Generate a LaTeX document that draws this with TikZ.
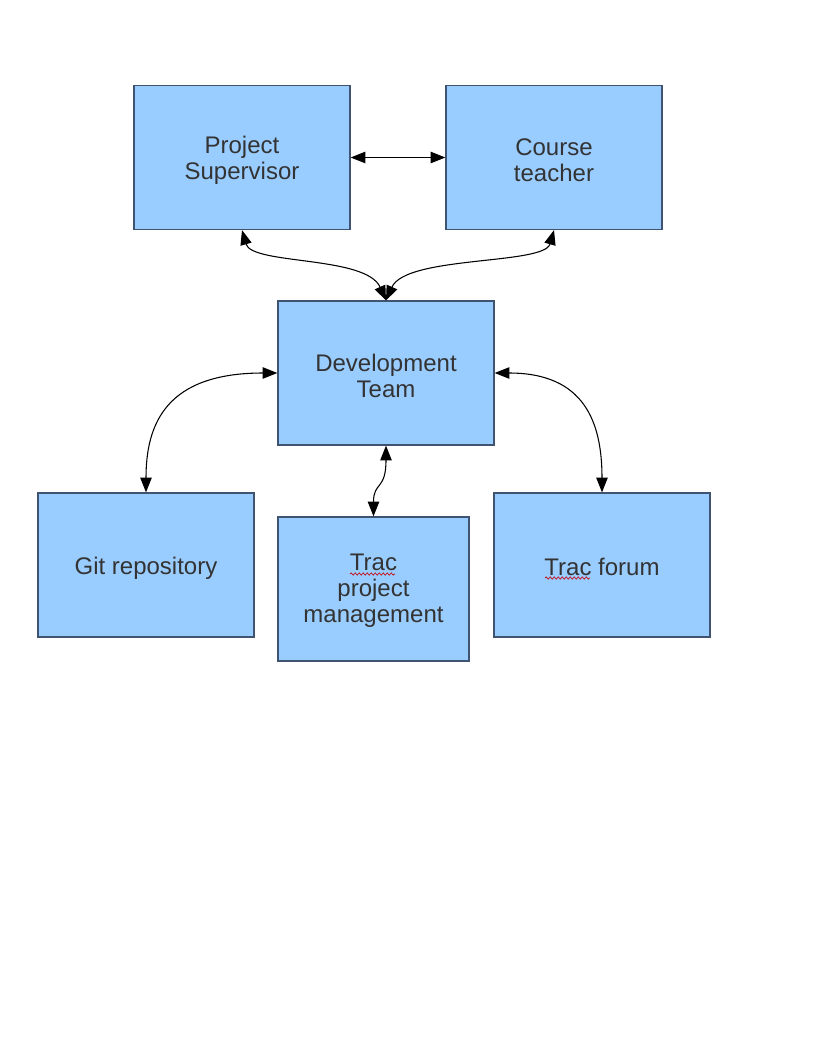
\documentclass[tikz,border=0pt]{standalone}
\usepackage{fontspec}
\setmainfont{Liberation Sans}
\usetikzlibrary{arrows.meta,decorations.pathmorphing,calc}
\definecolor{boxfill}{HTML}{99CCFF}
\definecolor{boxline}{HTML}{3F5470}
\definecolor{txt}{HTML}{333333}
\begin{document}
\begin{tikzpicture}[x=0.75pt,y=-0.75pt,
  box/.style={draw=boxline,line width=0.9pt,fill=boxfill,minimum width=162pt,minimum height=108pt,inner sep=0pt},
  boxtext/.style={align=center,text=txt,inner sep=0pt,font=\fontsize{18pt}{19.5pt}\selectfont},
  link/.style={line width=0.8pt,{Triangle[length=11pt,width=8.5pt]}-{Triangle[length=11pt,width=8.5pt]}},
  squig/.style={draw=red!80!black,line width=0.5pt,decorate,decoration={snake,segment length=3pt,amplitude=0.8pt}}]
\useasboundingbox[fill=white] (0,0) rectangle (816,1056);
\node[box] (ps) at (242,157.5) {};
\node[box] (ct) at (554,157.5) {};
\node[box] (dt) at (386,373) {};
\node[box] (git) at (146,565) {};
\node[box,minimum width=143.25pt] (tpm) at (373.5,589) {};
\node[box] (tf) at (602,565) {};
\node[boxtext] (pst) at ($(ps.center)+(0,3)$) {Project\\Supervisor};
\node[boxtext] (ctt) at ($(ct.center)+(0,3)$) {Course\\teacher};
\node[boxtext] (dtt) at ($(dt.center)+(0,3)$) {Development\\Team};
\node[boxtext] (gitt) at ($(git.center)+(0,3)$) {Git repository};
\node[boxtext] (tpmt) at ($(tpm.center)+(0,2)$) {Trac\\project\\management};
\node[boxtext] (tft) at ($(tf.center)+(0,2)$) {Trac forum};
\draw[link] (ps.east) -- (ct.east -| ct.west);
\draw[link] (ps.south) .. controls ($(ps.south)+(10,35)$) and ($(dt.north)+(-20,-45)$) .. (dt.north);
\draw[link] (ct.south) .. controls ($(ct.south)+(-10,35)$) and ($(dt.north)+(20,-45)$) .. (dt.north);
\draw[link] (dt.west) .. controls ($(dt.west)+(-110,0)$) and ($(git.north)+(0,-70)$) .. (git.north);
\draw[link] (dt.east) .. controls ($(dt.east)+(90,0)$) and ($(tf.north)+(0,-70)$) .. (tf.north);
\draw[link] (dt.south) .. controls ($(dt.south)+(0,45)$) and ($(tpm.north)+(0,-35)$) .. (tpm.north);
\draw[squig] (350,574) -- (395,574);
\draw[squig] (545,578) -- (590,578);
\end{tikzpicture}
\end{document}
